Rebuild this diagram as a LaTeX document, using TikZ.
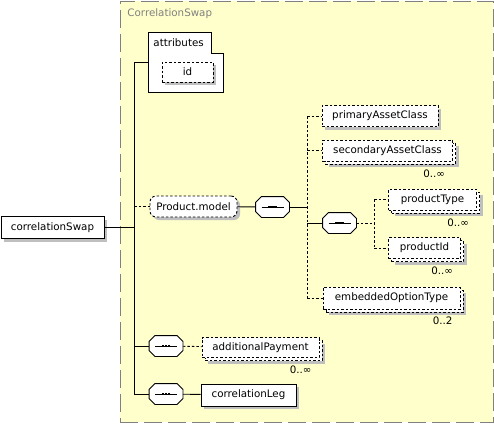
\documentclass[tikz,border=0pt]{standalone}
\usepackage{fontspec}
\setmainfont{DejaVu Sans}
\usetikzlibrary{shadows}
\definecolor{cmpfill}{HTML}{FFFFCC}
\definecolor{cmpline}{HTML}{808080}

\begin{document}
\begin{tikzpicture}[
  x=1pt, y=-1pt,
  font=\fontsize{10.3}{12}\selectfont,
  line width=0.9pt,
  shade/.style={drop shadow={shadow xshift=3pt, shadow yshift=-3pt, fill=gray!50, opacity=1}},
  opt/.style={dash pattern=on 2.5pt off 2pt},
  elem/.style={draw, fill=white, minimum height=21pt, inner sep=0pt, shade},
  optelem/.style={elem, opt},
  many/.style={drop shadow={shadow xshift=6pt, shadow yshift=-6pt, fill=gray!50, opacity=1},
               copy shadow={shadow xshift=3pt, shadow yshift=-3pt, draw=black, fill=white, opt}},
  manyelem/.style={draw, fill=white, minimum height=21pt, inner sep=0pt, opt, many},
  grp/.style={optelem, rounded corners=6pt},
  seq/.style={minimum width=33pt, minimum height=20pt, inner sep=0pt},
  occ/.style={anchor=north east, inner sep=0pt},
  cmpbox/.style={draw=cmpline, fill=cmpfill, line width=1pt, dash pattern=on 18pt off 6pt,
                 minimum width=373pt, minimum height=421pt, inner sep=0pt}
]
\useasboundingbox (0,0) rectangle (494,423);

\node[cmpbox] (cmp) at (306.5,211.5) {};
\node[anchor=west, inner sep=0pt, text=cmpline] (cmptitle) at (127,14) {CorrelationSwap};

\node[elem, minimum width=103pt, minimum height=22pt] (swap) at (52.5,227.5) {correlationSwap};

\node[inner sep=0pt, minimum width=75pt, minimum height=59pt] (attr) at (186.5,62.5) {};
\draw[fill=white] (attr.north west) -- ++(63,0) -- ++(0,21) -- ++(12,0) |- (attr.south west) -- cycle;
\node[anchor=west, inner sep=0pt] (attrlbl) at (153,43) {attributes};
\node[optelem, minimum width=51pt, minimum height=20pt] (id) at (187.5,72) {id};

\node[grp, minimum width=87pt] (prod) at (193.5,206.5) {Product.model};
\node[seq] (seq1) at (272.5,207) {};

\node[optelem, minimum width=116pt] (pac) at (380,116) {primaryAssetClass};
\node[manyelem, minimum width=130pt] (sac) at (387.5,150.5) {secondaryAssetClass};
\node[occ] (sacocc) at ([xshift=-7.5pt, yshift=-7.5pt]sac.south east) {0..∞};

\node[seq] (seq2) at (339.5,223) {};
\node[manyelem, minimum width=88pt] (ptype) at (432.5,199.5) {productType};
\node[occ] (ptypeocc) at ([xshift=-7.5pt, yshift=-7.5pt]ptype.south east) {0..∞};
\node[manyelem, minimum width=72pt] (pid) at (424.5,248) {productId};
\node[occ] (pidocc) at ([xshift=-7.5pt, yshift=-7.5pt]pid.south east) {0..∞};

\node[manyelem, minimum width=137pt, minimum height=22pt] (eot) at (391.5,298) {embeddedOptionType};
\node[occ] (eotocc) at ([xshift=-7.5pt, yshift=-7pt]eot.south east) {0..2};

\node[seq] (seq3) at (166,346) {};
\node[manyelem, minimum width=117pt, minimum height=20pt] (addpay) at (260.5,347.5) {additionalPayment};
\node[occ] (addpayocc) at ([xshift=-7.5pt, yshift=-7.5pt]addpay.south east) {0..∞};

\node[seq] (seq4) at (166,394) {};
\node[elem, minimum width=95pt, minimum height=22pt] (leg) at (248.5,395) {correlationLeg};

\foreach \s in {seq1,seq2,seq3,seq4} {
  \fill[gray!50, shift={(3,3)}] ([xshift=6pt]\s.north west) -- ([xshift=-6pt]\s.north east)
    -- ([yshift=-6pt]\s.north east) -- ([yshift=6pt]\s.south east) -- ([xshift=-6pt]\s.south east)
    -- ([xshift=6pt]\s.south west) -- ([yshift=6pt]\s.south west) -- ([yshift=-6pt]\s.north west) -- cycle;
  \draw[fill=white] ([xshift=6pt]\s.north west) -- ([xshift=-6pt]\s.north east)
    -- ([yshift=-6pt]\s.north east) -- ([yshift=6pt]\s.south east) -- ([xshift=-6pt]\s.south east)
    -- ([xshift=6pt]\s.south west) -- ([yshift=6pt]\s.south west) -- ([yshift=-6pt]\s.north west) -- cycle;
  \draw[line width=1pt] ([xshift=-11pt]\s.center) -- ([xshift=11pt]\s.center);
  \foreach \dx in {-3,0,3}
    \fill[black] ([xshift=\dx pt]\s.center) +(-1.3,-1.3) rectangle +(1.3,1.3);
}

\coordinate (sp) at (134,62);
\coordinate (spend) at (134,394);
\draw (sp) -- (spend);
\draw (swap) -- (swap -| sp);
\draw (sp) -- (sp -| attr.west);
\draw[opt] (prod -| sp) -- (prod);
\draw (seq3 -| sp) -- (seq3);
\draw (spend) -- (seq4);
\draw (prod) -- (seq1);
\draw[opt] (seq3) -- (addpay);
\draw (seq4) -- (leg);

\coordinate (sp2) at (307,116);
\coordinate (sp2end) at (307,298);
\draw[opt] (sp2) -- (sp2end);
\draw (seq1) -- (seq1 -| sp2);
\draw[opt] (sp2) -- (pac);
\draw[opt] (sac -| sp2) -- (sac);
\draw (seq2 -| sp2) -- (seq2);
\draw[opt] (sp2end) -- (eot);

\coordinate (sp3) at (374,199.5);
\coordinate (sp3end) at (374,248);
\draw[opt] (sp3) -- (sp3end);
\draw[opt] (seq2) -- (seq2 -| sp3);
\draw[opt] (sp3) -- (ptype);
\draw[opt] (sp3end) -- (pid);
\end{tikzpicture}
\end{document}
